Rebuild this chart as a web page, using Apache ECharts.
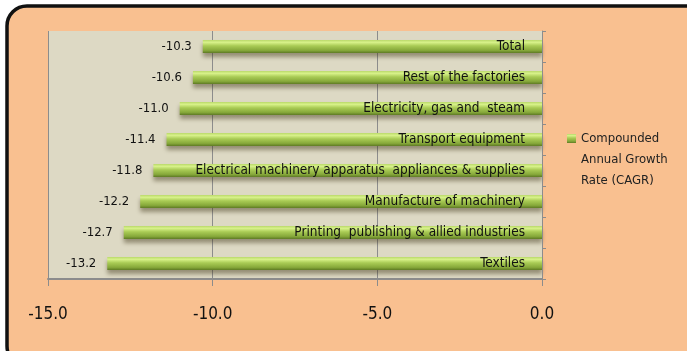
<!DOCTYPE html>
<html>
<head>
<meta charset="utf-8">
<script src="https://cdn.jsdelivr.net/npm/echarts@6/dist/echarts.min.js"></script>
<style>
  html, body { margin: 0; padding: 0; background: #ffffff; }
  #chart { width: 687px; height: 351px; }
</style>
</head>
<body>
<div id="chart"></div>
<script>
// Industry groups, top to bottom
const categories = [
  'Total',
  'Rest of the factories',
  'Electricity, gas and  steam',
  'Transport equipment',
  'Electrical machinery apparatus  appliances & supplies',
  'Manufacture of machinery',
  'Printing  publishing & allied industries',
  'Textiles'
];
// Compounded annual growth rate (%)
const cagr = [-10.3, -10.6, -11.0, -11.4, -11.8, -12.2, -12.7, -13.2];
const seriesName = 'Compounded\nAnnual Growth\nRate (CAGR)';
const xTicks = { min: -15, max: 0, step: 5 };

const FONT = '"DejaVu Sans Condensed", "Liberation Sans", sans-serif';
const GREEN = '#9bbb59';

const chart = echarts.init(document.getElementById('chart'), null, { renderer: 'canvas' });

chart.setOption({
  animation: false,
  backgroundColor: '#ffffff',
  graphic: [
    {
      type: 'rect',
      z: -10,
      silent: true,
      shape: { x: 7, y: 6, width: 700, height: 360, r: 20 },
      style: { fill: '#f9c090', stroke: '#111111', lineWidth: 3.5 }
    }
  ],
  grid: {
    left: 48, right: 145, top: 31, bottom: 72,
    show: true,
    backgroundColor: '#ddd9c4',
    borderWidth: 0
  },
  legend: {
    left: 562, top: 81,
    orient: 'vertical',
    itemWidth: 9, itemHeight: 9,
    itemGap: 0,
    icon: 'rect',
    data: [seriesName],
    // two leading blank lines keep the marker level with the first text line
    formatter: name => '\n\n' + name,
    textStyle: {
      fontFamily: FONT, fontSize: 13, color: '#222222',
      lineHeight: 21
    }
  },
  xAxis: {
    type: 'value',
    min: xTicks.min, max: xTicks.max, interval: xTicks.step,
    axisLine: { show: true, onZero: false, lineStyle: { color: '#8c8c8c', width: 2 } },
    axisTick: { show: true, length: 7, lineStyle: { color: '#8c8c8c' } },
    splitLine: { show: true, lineStyle: { color: '#8c8c8c', width: 1 } },
    axisLabel: {
      margin: 27,
      fontFamily: FONT, fontSize: 17, color: '#111111',
      formatter: v => v.toFixed(1)
    }
  },
  yAxis: {
    type: 'category',
    data: categories,
    inverse: true,
    position: 'right',
    axisLine: { show: true, lineStyle: { color: '#8c8c8c', width: 1 } },
    axisTick: { show: true, length: 4, inside: false, lineStyle: { color: '#8c8c8c' } },
    splitLine: { show: false },
    axisLabel: {
      inside: true,
      margin: 17,
      fontFamily: FONT, fontSize: 13.5, color: '#111111'
    },
    z: 5
  },
  series: [
    {
      name: seriesName,
      type: 'bar',
      data: cagr,
      barWidth: 13,
      itemStyle: {
        color: new echarts.graphic.LinearGradient(0, 0, 0, 1, [
          { offset: 0, color: '#b9d86a' },
          { offset: 0.18, color: '#d8f28a' },
          { offset: 0.45, color: '#a9cb55' },
          { offset: 0.8, color: '#86a83a' },
          { offset: 1, color: '#5e7a24' }
        ]),
        shadowColor: 'rgba(60,50,20,0.45)',
        shadowBlur: 4,
        shadowOffsetY: 4
      },
      label: {
        show: true,
        position: 'left',
        distance: 11,
        fontFamily: FONT, fontSize: 13, color: '#111111',
        formatter: p => p.value.toFixed(1)
      }
    }
  ],
  color: [GREEN]
});
</script>
</body>
</html>
